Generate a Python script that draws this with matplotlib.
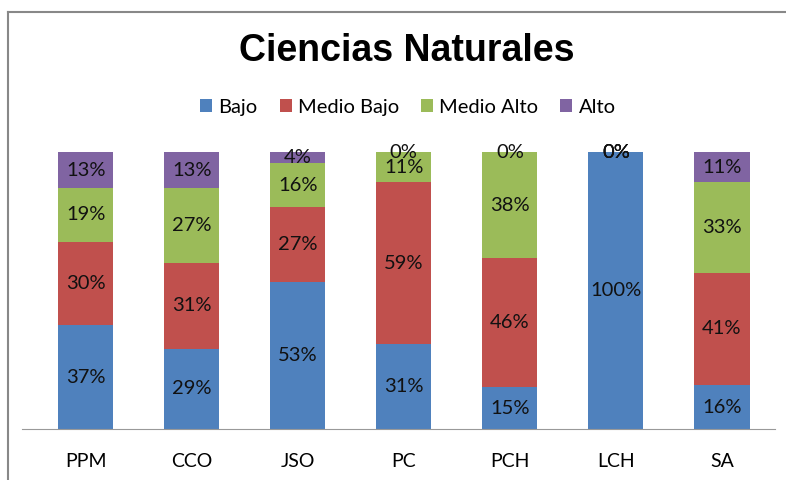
import numpy as np
import matplotlib.pyplot as plt
from matplotlib.lines import Line2D

# datos
grupos = ['PPM', 'CCO', 'JSO', 'PC', 'PCH', 'LCH', 'SA']
bajo = [37, 29, 53, 31, 15, 100, 16]
medio_bajo = [30, 31, 27, 59, 46, 0, 41]
medio_alto = [19, 27, 16, 11, 38, 0, 33]
alto = [13, 13, 4, 0, 0, 0, 11]
niveles = ['Bajo', 'Medio Bajo', 'Medio Alto', 'Alto']
colores = ['#4F81BD', '#C0504D', '#9BBB59', '#8064A2']

series = np.array([bajo, medio_bajo, medio_alto, alto], dtype=float)
# grafico 100% apilado, como en Excel
totales = series.sum(axis=0)
frac = series / totales

fig = plt.figure(figsize=(7.86, 4.8), dpi=100)
ax = fig.add_axes([22/786, 51/480, 753/786, 277/480])

x = np.arange(len(grupos))
base = np.zeros(len(grupos))
for i, nivel in enumerate(niveles):
    ax.bar(x, frac[i], 0.52, bottom=base, color=colores[i], label=nivel)
    for j in range(len(grupos)):
        ax.text(x[j], base[j] + frac[i][j] / 2, f'{int(series[i][j])}%',
                ha='center', va='center', fontsize=14.5, family='Lato', color='#111111')
    base = base + frac[i]

ax.set_xlim(-0.6, 6.5)
ax.set_ylim(0, 1)
ax.set_xticks(x)
ax.set_xticklabels(grupos, family='Lato', fontsize=14)
ax.tick_params(axis='x', length=0, pad=17)
ax.set_yticks([])
for lado in ['top', 'right', 'left']:
    ax.spines[lado].set_visible(False)
ax.spines['bottom'].set_color('#999999')

fig.text(0.517, 0.893, 'Ciencias Naturales', ha='center', va='center',
         fontsize=27, fontweight='bold', family='Liberation Sans')

leg = fig.legend(loc='center', bbox_to_anchor=(0.519, 0.777), ncol=4, frameon=False,
                 prop={'family': 'Lato', 'size': 14.5}, handlelength=0.6, handleheight=0.6,
                 handletextpad=0.3, columnspacing=1.1)

# marco del area del grafico
fig.add_artist(Line2D([8/786, 8/786], [0, 1 - 12/480], color='#888888', lw=1.5))
fig.add_artist(Line2D([8/786, 1], [1 - 12/480, 1 - 12/480], color='#888888', lw=1.5))

plt.savefig('out.png', dpi=100)
